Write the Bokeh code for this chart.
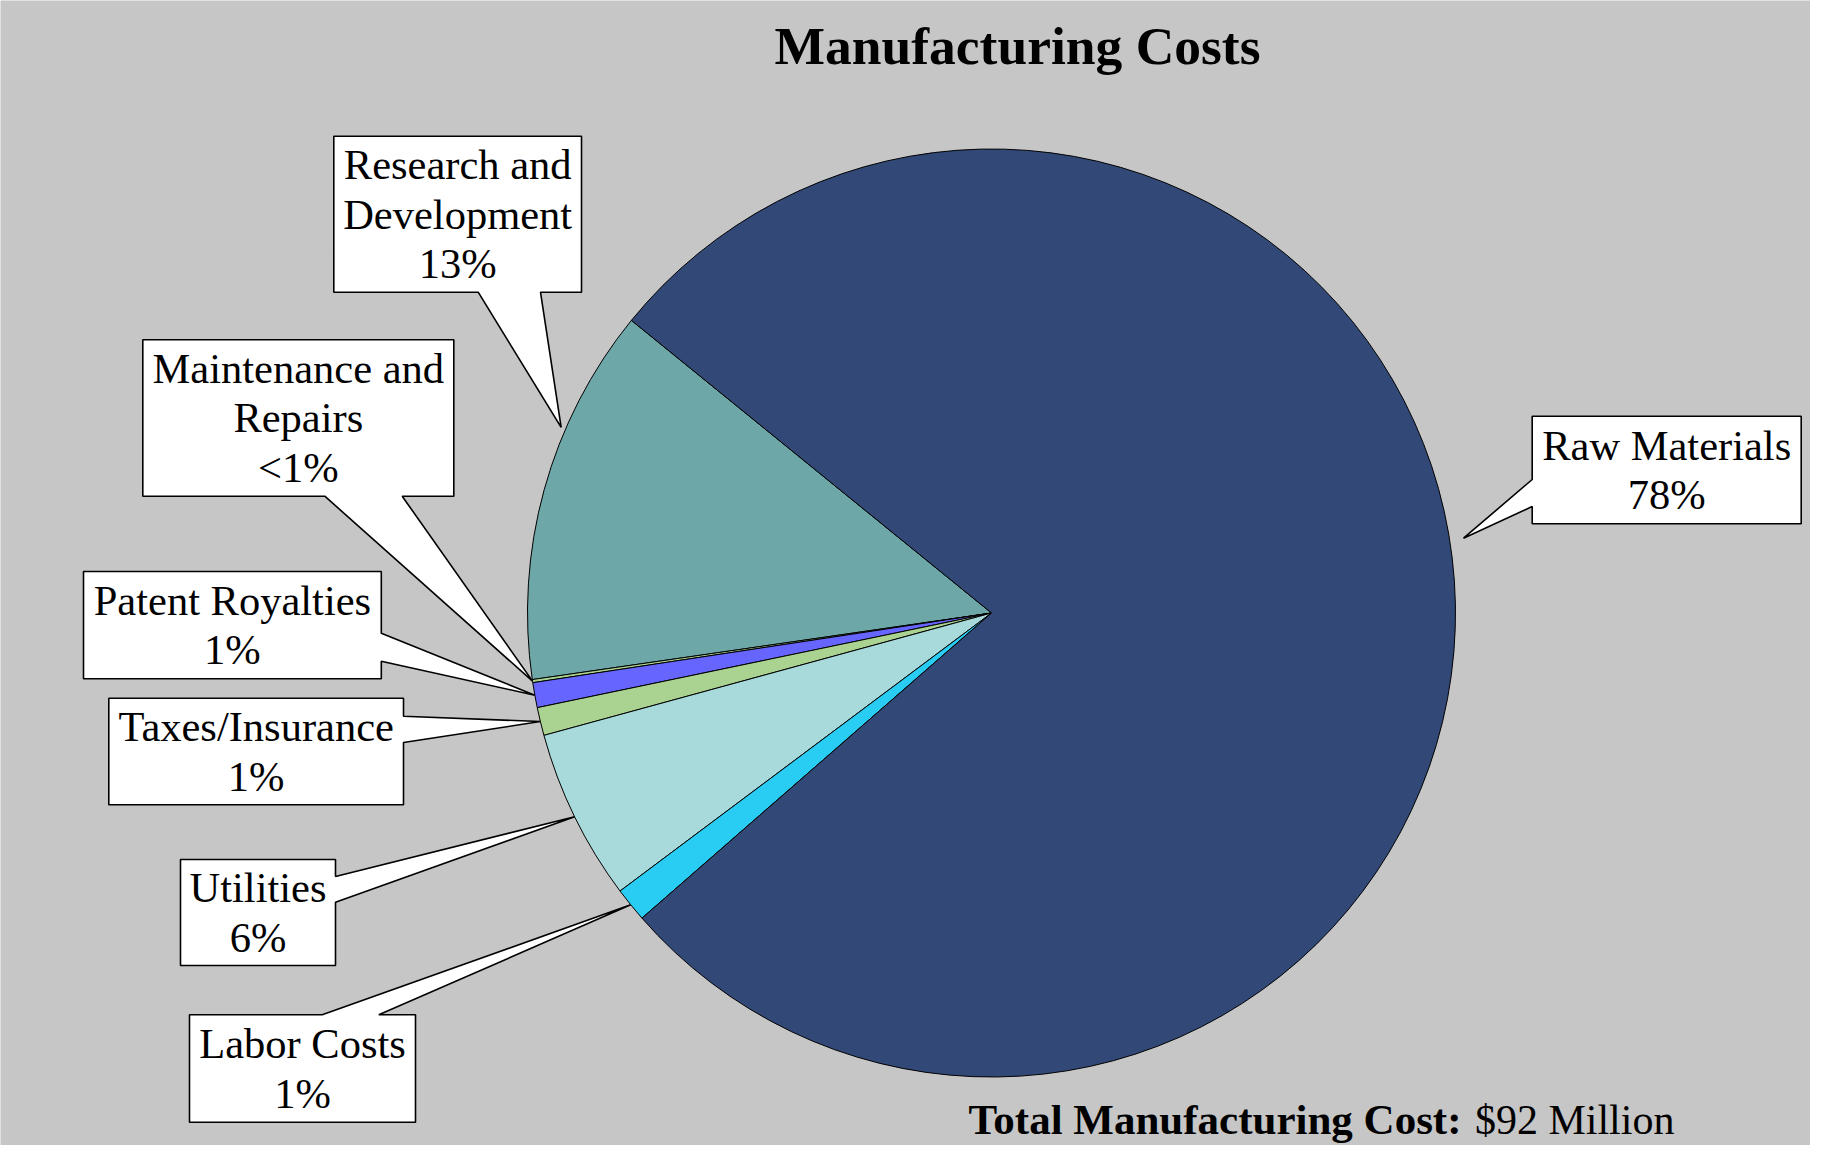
import math
from bokeh.plotting import figure
from bokeh.models import Range1d, ColumnDataSource
from bokeh.core.properties import value
from bokeh.embed import file_html
from bokeh.resources import INLINE

# ---------------- data ----------------
categories = ["Research and Development", "Maintenance and Repairs", "Patent Royalties",
              "Taxes/Insurance", "Utilities", "Labor Costs", "Raw Materials"]
costs_musd = [12.1, 0.1, 0.8, 0.9, 5.5, 1.1, 71.5]   # $ million
colors = ["#6EA7A8", "#AAD290", "#6666FF", "#AAD290", "#A8DADC", "#29CCF2", "#324978"]
title_text = "Manufacturing Costs"

# ---------------- layout (canvas pixel coords, y down) ----------------
W, H = 1810, 1145
CX, CY, R = 991.0, 612.5, 464.0
START_DEG = 140.9
FONT = value("Liberation Serif")

wrapped = {
    "Research and Development": "Research and\nDevelopment",
    "Maintenance and Repairs": "Maintenance and\nRepairs",
}
# box (x0, y0, x1, y1), pointer side, pointer base (a, b), tip angle offset (deg), tip radius factor
callouts = {
    "Raw Materials": ((1531.7, 415.7, 1800.7, 523.3), "left", (479.0, 506.0), 8.0, 1.03),
    "Research and Development": ((333.3, 135.7, 581.0, 291.7), "bottom", (477.7, 540.0), -7.9, 1.01),
    "Maintenance and Repairs": ((142.3, 339.3, 453.3, 495.7), "bottom", (324.3, 401.7), 0.0, 1.0),
    "Patent Royalties": ((83.0, 571.0, 380.8, 678.3), "right", (632.7, 660.7), 0.0, 1.0),
    "Taxes/Insurance": ((108.3, 697.7, 403.0, 804.3), "right", (715.7, 742.0), 0.0, 1.0),
    "Utilities": ((180.0, 859.0, 335.0, 965.0), "right", (876.0, 901.7), 0.0, 1.0),
    "Labor Costs": ((189.0, 1014.3, 415.0, 1121.7), "top", (321.7, 378.3), 0.0, 1.0),
}


def fy(y):
    return H - y


total = sum(costs_musd)
starts, ends, mids = [], [], []
a = math.radians(START_DEG)
for v in costs_musd:
    span = 2 * math.pi * v / total
    starts.append(a)
    ends.append(a + span)
    mids.append(a + span / 2)
    a += span


def pct_label(v):
    p = 100.0 * v / total
    return "<1%" if p < 0.5 else f"{round(p):.0f}%"


p = figure(width=W, height=H, output_backend="svg", toolbar_location=None,
           x_range=Range1d(0, W), y_range=Range1d(0, H),
           x_axis_location=None, y_axis_location=None, min_border=0,
           background_fill_color="#C6C6C6", border_fill_color="#C6C6C6")
p.outline_line_color = None
p.grid.visible = False

src = ColumnDataSource(dict(start=starts, end=ends, color=colors, cat=categories))
p.wedge(x=CX, y=fy(CY), radius=R, start_angle="start", end_angle="end",
        fill_color="color", line_color="black", line_width=1, source=src)

xs, ys, tx, ty, texts = [], [], [], [], []
for cat, v, m in zip(categories, costs_musd, mids):
    (x0, y0, x1, y1), side, (ba, bb), off, rf = callouts[cat]
    ang = m + math.radians(off)
    tipx = CX + R * rf * math.cos(ang)
    tipy = CY - R * rf * math.sin(ang)
    tip = (tipx, tipy)
    pts = [(x0, y0)]
    if side == "top":
        pts += [(ba, y0), tip, (bb, y0)]
    pts.append((x1, y0))
    if side == "right":
        pts += [(x1, ba), tip, (x1, bb)]
    pts.append((x1, y1))
    if side == "bottom":
        pts += [(bb, y1), tip, (ba, y1)]
    pts.append((x0, y1))
    if side == "left":
        pts += [(x0, bb), tip, (x0, ba)]
    xs.append([q[0] for q in pts])
    ys.append([fy(q[1]) for q in pts])
    tx.append((x0 + x1) / 2)
    ty.append(fy((y0 + y1) / 2))
    texts.append(wrapped.get(cat, cat) + "\n" + pct_label(v))

p.patches(xs, ys, fill_color="white", line_color="black", line_width=1.6)
p.text(x=tx, y=ty, text=texts, text_font=FONT, text_font_size="42.5px",
       text_align="center", text_baseline="middle", text_line_height=1.05, text_color="black")

# title
p.text(x=[1017], y=[fy(45)], text=[title_text], text_font=FONT, text_font_size="53.5px",
       text_font_style="bold", text_align="center", text_baseline="middle", text_color="black")

# footer
FOOT_Y = 1119
p.text(x=[1461], y=[fy(FOOT_Y)], text=["Total Manufacturing Cost:"], text_font=FONT,
       text_font_size="43px", text_font_style="bold", text_align="right",
       text_baseline="middle", text_color="black")
p.text(x=[1474.4], y=[fy(FOOT_Y)], text=[f"${total:.0f} Million"], text_font=FONT,
       text_font_size="42px", text_align="left", text_baseline="middle", text_color="black")

open("out.html", "w").write(file_html(p, INLINE))
